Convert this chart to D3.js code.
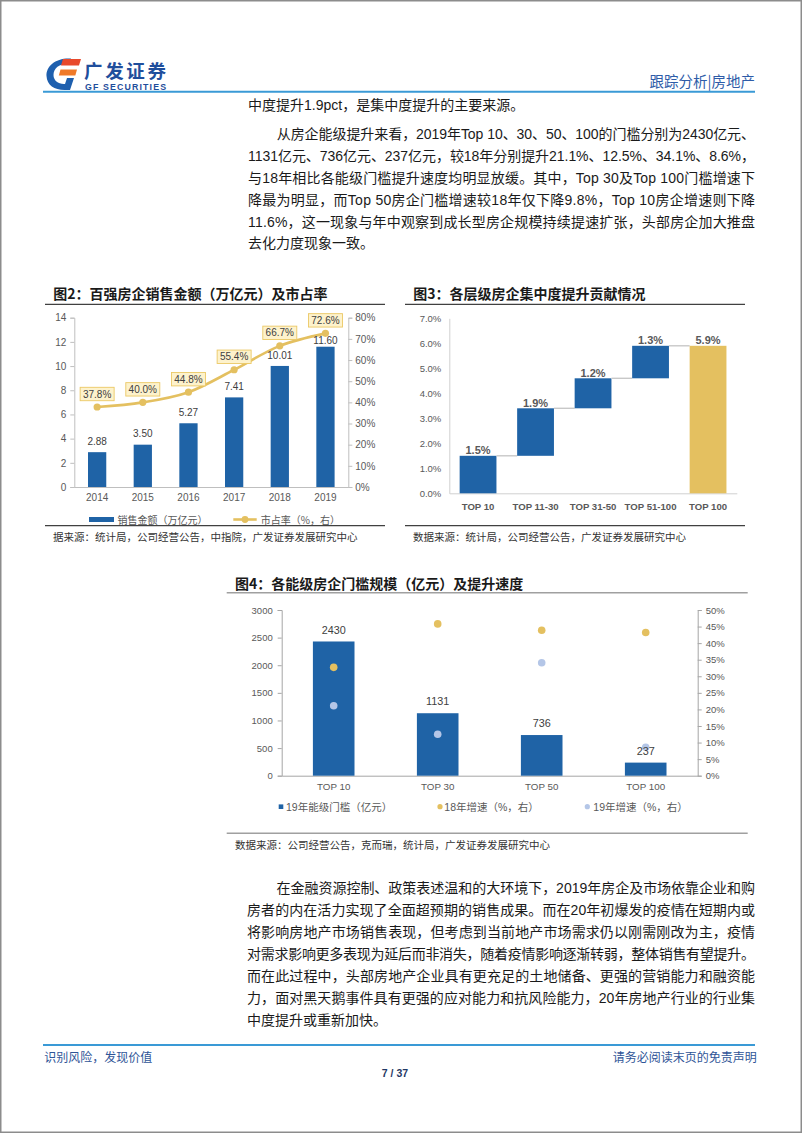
<!DOCTYPE html>
<html><head><meta charset="utf-8">
<script src="https://cdn.jsdelivr.net/npm/d3@7"></script>
<style>body{margin:0;background:#fff}svg{display:block}</style>
</head><body>
<svg id="page" width="802" height="1133"></svg>
<script>
// ---------- data ----------
const years = ['2014','2015','2016','2017','2018','2019'];
const salesValues = [2.88, 3.50, 5.27, 7.41, 10.01, 11.60];
const shareValues = [37.8, 40.0, 44.8, 55.4, 66.7, 72.6];
const c2LeftTicks = [0, 2, 4, 6, 8, 10, 12, 14];
const c2RightTicks = [0, 10, 20, 30, 40, 50, 60, 70, 80];

const tierLabels = ['TOP 10', 'TOP 11-30', 'TOP 31-50', 'TOP 51-100', 'TOP 100'];
const tierContrib = [1.5, 1.9, 1.2, 1.3, 5.9];
const c3Ticks = [0, 1, 2, 3, 4, 5, 6, 7];

const levelLabels = ['TOP 10', 'TOP 30', 'TOP 50', 'TOP 100'];
const thresholdValues = [2430, 1131, 736, 237];
const growth18 = [32.7, 45.8, 43.9, 43.2];
const growth19 = [21.1, 12.5, 34.1, 8.6];
const c4LeftTicks = [0, 500, 1000, 1500, 2000, 2500, 3000];
const c4RightTicks = [0, 5, 10, 15, 20, 25, 30, 35, 40, 45, 50];

const para1 = ['中度提升1.9pct，是集中度提升的主要来源。'];
const para2 = [
  '从房企能级提升来看，2019年Top 10、30、50、100的门槛分别为2430亿元、',
  '1131亿元、736亿元、237亿元，较18年分别提升21.1%、12.5%、34.1%、8.6%，',
  '与18年相比各能级门槛提升速度均明显放缓。其中，Top 30及Top 100门槛增速下',
  '降最为明显，而Top 50房企门槛增速较18年仅下降9.8%，Top 10房企增速则下降',
  '11.6%，这一现象与年中观察到成长型房企规模持续提速扩张，头部房企加大推盘',
  '去化力度现象一致。'
];
const para3 = [
  '在金融资源控制、政策表述温和的大环境下，2019年房企及市场依靠企业和购',
  '房者的内在活力实现了全面超预期的销售成果。而在20年初爆发的疫情在短期内或',
  '将影响房地产市场销售表现，但考虑到当前地产市场需求仍以刚需刚改为主，疫情',
  '对需求影响更多表现为延后而非消失，随着疫情影响逐渐转弱，整体销售有望提升。',
  '而在此过程中，头部房地产企业具有更充足的土地储备、更强的营销能力和融资能',
  '力，面对黑天鹅事件具有更强的应对能力和抗风险能力，20年房地产行业的行业集',
  '中度提升或重新加快。'
];

// ---------- styles ----------
const FONT = "'Liberation Sans','Noto Sans CJK SC',Arial,sans-serif";
const CJK = "'Noto Sans CJK SC','Liberation Sans',sans-serif";
const BLUE = '#1f63a6', GOLD = '#e4c060', LAV = '#b4c6e7';
const svg = d3.select('#page').style('font-family', FONT);

function text(g, x, y, s, o = {}) {
  const t = g.append('text').attr('x', x).attr('y', y).text(s)
    .attr('font-size', o.size || 10).attr('fill', o.fill || '#333')
    .attr('dominant-baseline', 'central')
    .attr('text-anchor', o.anchor || 'start');
  if (o.weight) t.attr('font-weight', o.weight);
  if (o.family) t.attr('font-family', o.family);
  if (o.len) t.attr('textLength', o.len).attr('lengthAdjust', 'spacing');
  return t;
}
function hline(g, x1, x2, y, color, w) {
  g.append('line').attr('x1', x1).attr('x2', x2).attr('y1', y).attr('y2', y)
    .attr('stroke', color).attr('stroke-width', w);
}
function styleAxis(g, size, color, lineColor) {
  g.selectAll('text').attr('font-size', size).attr('fill', color).attr('font-family', FONT);
  g.selectAll('line').attr('stroke', lineColor);
  g.select('.domain').attr('stroke', lineColor);
}

// page border
svg.append('rect').attr('x', 0.75).attr('y', 0.75).attr('width', 800.5).attr('height', 1131.5)
  .attr('fill', 'none').attr('stroke', '#8c8c8c').attr('stroke-width', 1.5);

// ---------- header ----------
const hd = svg.append('g');
hd.append('path').attr('d', 'M71 58.5 C56 57.5 46 66 46.5 76 C47 85.5 55 90.5 66 90 L70 90 L74 78 L67 78 L65 84 C58.5 84.5 53.5 80.5 53.5 75 C53.5 68.5 59 63.5 69 63.5 Z').attr('fill', '#1e5fae');
hd.append('path').attr('d', 'M63 59 L81 59 L79 65.5 L61 65.5 Z').attr('fill', '#e8492c');
hd.append('path').attr('d', 'M60.5 69.5 L77 69.5 L75.3 75.5 L58.8 75.5 Z').attr('fill', '#ef7a2a');
text(hd, 84, 70, '广发证券', {size: 18.5, weight: 'bold', fill: '#1f4e9c', family: CJK, len: 82});
text(hd, 85, 87.3, 'GF SECURITIES', {size: 8.8, weight: 'bold', fill: '#1f4e9c', len: 81});
text(hd, 755, 80.7, '跟踪分析|房地产', {size: 14.5, fill: '#2e5ca8', anchor: 'end', family: CJK});
hline(hd, 43, 755, 91.7, '#3a9ad6', 2);

// ---------- body text ----------
const body = svg.append('g').attr('fill', '#1a1a1a');
text(body, 248, 105, para1[0], {size: 14, fill: '#1a1a1a'});
const p2y = [134, 156, 178, 199.5, 221.5, 243.3];
para2.forEach((s, i) => {
  const x = i === 0 ? 276.7 : 248;
  text(body, x, p2y[i], s, {size: 14, fill: '#1a1a1a', len: i < para2.length - 1 ? 755 - x : null});
});
const p3y = [888.3, 910.3, 932.2, 954, 976, 998, 1020];
para3.forEach((s, i) => {
  const x = i === 0 ? 276.5 : 247;
  text(body, x, p3y[i], s, {size: 14, fill: '#1a1a1a', len: i < para3.length - 1 ? 755 - x : null});
});

// ---------- chart 2 ----------
const c2 = svg.append('g');
text(c2, 53.3, 293.3, '图2：百强房企销售金额（万亿元）及市占率', {size: 14, weight: 'bold', fill: '#1a1a1a', family: CJK});
hline(c2, 45, 385, 304.3, '#404040', 1.3);
hline(c2, 45, 385, 525.7, '#404040', 1.3);
text(c2, 53, 536.7, '据来源：统计局，公司经营公告，中指院，广发证券发展研究中心', {size: 10.5, fill: '#333', family: CJK});

const x2 = d3.scaleBand().domain(years).range([74.3, 348.3]).paddingInner(0.6).paddingOuter(0.3);
const y2 = d3.scaleLinear().domain([0, 14]).range([487, 317.7]);
const y2r = d3.scaleLinear().domain([0, 80]).range([487, 317.7]);
const a2l = c2.append('g').attr('transform', 'translate(74.3,0)')
  .call(d3.axisLeft(y2).tickValues(c2LeftTicks).tickSize(4).tickPadding(4));
styleAxis(a2l, 10, '#595959', '#bfbfbf');
const a2r = c2.append('g').attr('transform', 'translate(348.3,0)')
  .call(d3.axisRight(y2r).tickValues(c2RightTicks).tickFormat(d => d + '%').tickSize(4).tickPadding(3));
styleAxis(a2r, 10, '#595959', '#bfbfbf');
const a2b = c2.append('g').attr('transform', 'translate(0,487)')
  .call(d3.axisBottom(x2).tickSize(0).tickPadding(7));
styleAxis(a2b, 10, '#595959', '#bfbfbf');

c2.selectAll('rect.bar').data(years).enter().append('rect')
  .attr('x', d => x2(d)).attr('width', x2.bandwidth())
  .attr('y', (d, i) => y2(salesValues[i])).attr('height', (d, i) => y2(0) - y2(salesValues[i]))
  .attr('fill', BLUE);
const line2 = d3.line().x((d, i) => x2(years[i]) + x2.bandwidth() / 2).y(d => y2r(d)).curve(d3.curveCatmullRom.alpha(0.5));
c2.append('path').attr('d', line2(shareValues)).attr('fill', 'none').attr('stroke', GOLD).attr('stroke-width', 2.6);
years.forEach((d, i) => {
  let ly = y2(salesValues[i]) - 10.8;
  const my = y2r(shareValues[i]);
  if (Math.abs(ly - my) < 8) ly = my + 7;   // nudge below the line marker when they collide
  text(c2, x2(d) + x2.bandwidth() / 2, ly, salesValues[i].toFixed(2), {size: 10, fill: '#404040', anchor: 'middle'});
});
shareValues.forEach((v, i) => {
  const cx = x2(years[i]) + x2.bandwidth() / 2, cy = y2r(v);
  c2.append('circle').attr('cx', cx).attr('cy', cy).attr('r', 3.6).attr('fill', GOLD);
  c2.append('rect').attr('x', cx - 17).attr('y', cy - 13 - 6.7).attr('width', 34).attr('height', 13.4)
    .attr('fill', '#fdf2cc').attr('stroke', '#ebc865').attr('stroke-width', 0.9);
  text(c2, cx, cy - 13, v.toFixed(1) + '%', {size: 10, fill: '#404040', anchor: 'middle'});
});
// legend
c2.append('rect').attr('x', 89).attr('y', 517).attr('width', 25).attr('height', 5).attr('fill', BLUE);
text(c2, 117.5, 519.5, '销售金额（万亿元）', {size: 10, fill: '#595959', family: CJK});
c2.append('line').attr('x1', 233.3).attr('x2', 256.7).attr('y1', 519.5).attr('y2', 519.5).attr('stroke', GOLD).attr('stroke-width', 2.6);
c2.append('circle').attr('cx', 245).attr('cy', 519.5).attr('r', 3.4).attr('fill', GOLD);
text(c2, 260.7, 519.5, '市占率（%，右）', {size: 10, fill: '#595959', family: CJK});

// ---------- chart 3 ----------
const c3 = svg.append('g');
text(c3, 413.3, 293.3, '图3：各层级房企集中度提升贡献情况', {size: 14, weight: 'bold', fill: '#1a1a1a', family: CJK});
hline(c3, 405, 745, 304.3, '#404040', 1.3);
hline(c3, 405, 745, 525.7, '#404040', 1.3);
text(c3, 413, 536.7, '数据来源：统计局，公司经营公告，广发证券发展研究中心', {size: 10.5, fill: '#333', family: CJK});

const x3 = d3.scaleBand().domain(tierLabels).range([449.3, 736.8]).paddingInner(0.36).paddingOuter(0.18);
const y3 = d3.scaleLinear().domain([0, 7]).range([493.3, 318.3]);
const a3l = c3.append('g').attr('transform', 'translate(449.3,0)')
  .call(d3.axisLeft(y3).tickValues(c3Ticks).tickFormat(d => d.toFixed(1) + '%').tickSize(0).tickPadding(8));
styleAxis(a3l, 9.5, '#595959', '#d0d0d0');
const a3b = c3.append('g').attr('transform', 'translate(0,493.3)')
  .call(d3.axisBottom(x3).tickSize(0).tickPadding(9.5));
styleAxis(a3b, 9.6, '#595959', '#d0d0d0');
a3b.selectAll('text').attr('font-weight', 'bold');

const bases = [];
let acc = 0;
tierContrib.forEach((v, i) => {
  if (i === tierContrib.length - 1) bases.push(0);
  else { bases.push(acc); acc += v; }
});
tierContrib.forEach((v, i) => {
  const top = bases[i] + v;
  const last = i === tierContrib.length - 1;
  c3.append('rect').attr('x', x3(tierLabels[i])).attr('width', x3.bandwidth())
    .attr('y', y3(top)).attr('height', y3(bases[i]) - y3(top))
    .attr('fill', last ? GOLD : BLUE);
  if (!last) {
    c3.append('line').attr('x1', x3(tierLabels[i]) + x3.bandwidth()).attr('x2', x3(tierLabels[i + 1]))
      .attr('y1', y3(top)).attr('y2', y3(top)).attr('stroke', '#c8c8c8').attr('stroke-width', 1.4);
  }
  text(c3, x3(tierLabels[i]) + x3.bandwidth() / 2, y3(top) - 5.7, v.toFixed(1) + '%', {size: 11, weight: 'bold', fill: '#595959', anchor: 'middle'});
});

// ---------- chart 4 ----------
const c4 = svg.append('g');
text(c4, 235, 583.3, '图4：各能级房企门槛规模（亿元）及提升速度', {size: 14, weight: 'bold', fill: '#1a1a1a', family: CJK});
hline(c4, 226.7, 747.7, 592.7, '#a0a0a0', 1.6);
hline(c4, 226.7, 747.7, 833.3, '#a0a0a0', 1.6);
text(c4, 235, 844, '数据来源：公司经营公告，克而瑞，统计局，广发证券发展研究中心', {size: 10.5, fill: '#333', family: CJK});

const x4 = d3.scaleBand().domain(levelLabels).range([281.7, 697.7]).paddingInner(0.6).paddingOuter(0.3);
const y4 = d3.scaleLinear().domain([0, 3000]).range([775.7, 610]);
const y4r = d3.scaleLinear().domain([0, 50]).range([775.7, 610]);
const a4l = c4.append('g').attr('transform', 'translate(281.7,0)')
  .call(d3.axisLeft(y4).tickValues(c4LeftTicks).tickFormat(d3.format('d')).tickSize(4).tickPadding(5));
styleAxis(a4l, 9.5, '#595959', '#a6a6a6');
const a4r = c4.append('g').attr('transform', 'translate(697.7,0)')
  .call(d3.axisRight(y4r).tickValues(c4RightTicks).tickFormat(d => d + '%').tickSize(4).tickPadding(4));
styleAxis(a4r, 9.5, '#595959', '#a6a6a6');
const a4b = c4.append('g').attr('transform', 'translate(0,775.7)')
  .call(d3.axisBottom(x4).tickSize(0).tickPadding(7.5));
styleAxis(a4b, 9.8, '#595959', '#a6a6a6');

c4.selectAll('rect.bar').data(levelLabels).enter().append('rect')
  .attr('x', d => x4(d)).attr('width', x4.bandwidth())
  .attr('y', (d, i) => y4(thresholdValues[i])).attr('height', (d, i) => y4(0) - y4(thresholdValues[i]))
  .attr('fill', BLUE);
levelLabels.forEach((d, i) => {
  const cx = x4(d) + x4.bandwidth() / 2;
  c4.append('circle').attr('cx', cx).attr('cy', y4r(growth18[i])).attr('r', 3.8).attr('fill', GOLD);
  c4.append('circle').attr('cx', cx).attr('cy', y4r(growth19[i])).attr('r', 3.8).attr('fill', LAV);
});
levelLabels.forEach((d, i) => {
  text(c4, x4(d) + x4.bandwidth() / 2, y4(thresholdValues[i]) - 11.8, String(thresholdValues[i]), {size: 10.8, fill: '#404040', anchor: 'middle'});
});
// legend
c4.append('rect').attr('x', 278.7).attr('y', 804.4).attr('width', 4.6).attr('height', 4.6).attr('fill', BLUE);
text(c4, 286, 806.7, '19年能级门槛（亿元）', {size: 10.5, fill: '#595959'});
c4.append('circle').attr('cx', 440).attr('cy', 806.7).attr('r', 2.6).attr('fill', GOLD);
text(c4, 444.3, 806.7, '18年增速（%，右）', {size: 10.5, fill: '#595959'});
c4.append('circle').attr('cx', 587.3).attr('cy', 806.7).attr('r', 2.6).attr('fill', LAV);
text(c4, 593.3, 806.7, '19年增速（%，右）', {size: 10.5, fill: '#595959'});

// ---------- footer ----------
const ft = svg.append('g');
hline(ft, 43, 755, 1045, '#3a9ad6', 2);
text(ft, 44.3, 1056, '识别风险，发现价值', {size: 12, fill: '#2f5597', family: CJK});
text(ft, 756.7, 1056, '请务必阅读末页的免责声明', {size: 12, fill: '#2f5597', anchor: 'end', family: CJK});
text(ft, 395, 1073.3, '7 / 37', {size: 10.5, weight: 'bold', fill: '#1f3864', anchor: 'middle'});
</script>
</body></html>
